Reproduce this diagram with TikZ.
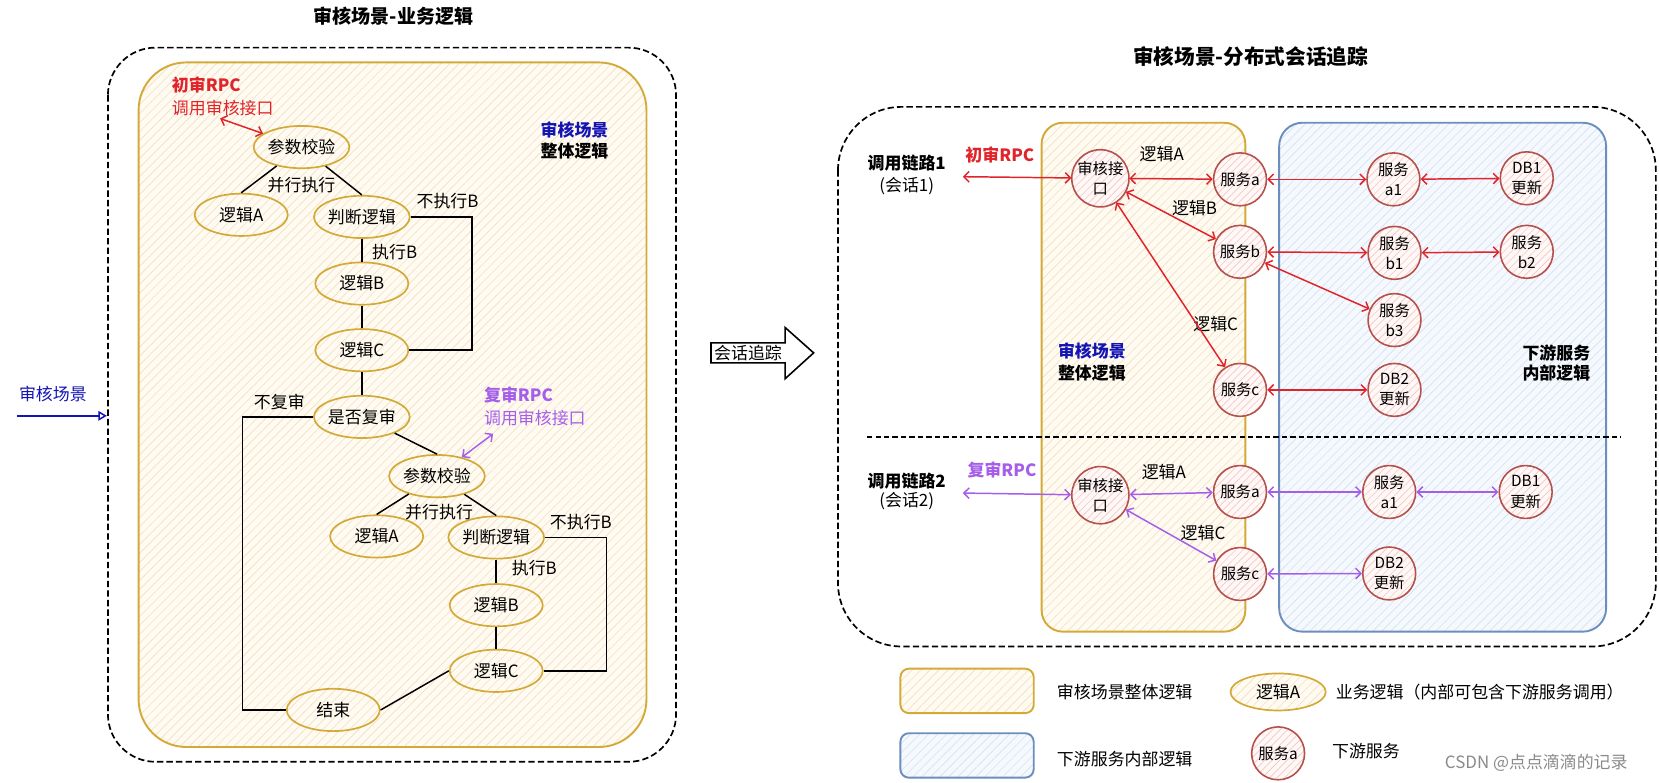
\documentclass[tikz,border=0pt]{standalone}
\usepackage{fontspec}
\setmainfont{Noto Sans CJK SC}
\usetikzlibrary{shapes.geometric,arrows.meta,patterns.meta}
\definecolor{goldc}{HTML}{D4A937}
\definecolor{goldbg}{HTML}{FFFBF2}
\definecolor{goldhatch}{HTML}{F1E1BD}
\definecolor{bluec}{HTML}{6C8EBF}
\definecolor{bluebg}{HTML}{F5F9FE}
\definecolor{bluehatch}{HTML}{D3E1F2}
\definecolor{svcc}{HTML}{B5504B}
\definecolor{svcbg}{HTML}{FFF8F7}
\definecolor{svchatch}{HTML}{F0C8C5}
\definecolor{redc}{HTML}{E0242A}
\definecolor{purc}{HTML}{A55EEA}
\definecolor{bluet}{HTML}{1414B4}
\definecolor{wmgray}{HTML}{8A8A8A}
\newcommand\lblfont{\fontsize{16}{20}\selectfont}
\newcommand\svcfont{\fontsize{14.5}{19}\selectfont}
\newcommand\ttlAfont{\fontsize{18}{22}\selectfont\bfseries}
\newcommand\ttlBfont{\fontsize{19.5}{23}\selectfont\bfseries}
\begin{document}
\begin{tikzpicture}[x=1pt,y=-1pt,
  every node/.style={font=\lblfont},
  hatchgold/.style={preaction={fill=goldbg},pattern={Lines[angle=45,distance=6pt,line width=0.6pt]},pattern color=goldhatch},
  hatchblue/.style={preaction={fill=bluebg},pattern={Lines[angle=45,distance=6pt,line width=0.6pt]},pattern color=bluehatch},
  hatchpink/.style={preaction={fill=svcbg},pattern={Lines[angle=45,distance=5pt,line width=0.6pt]},pattern color=svchatch},
  outerdash/.style={draw=black,line width=1.6pt,dash pattern=on 6pt off 3pt},
  goldbox/.style={draw=goldc,line width=1.8pt,hatchgold},
  bluebox/.style={draw=bluec,line width=1.8pt,hatchblue},
  ell/.style={ellipse,draw=goldc,line width=1.6pt,hatchgold,minimum width=88pt,minimum height=40pt,inner sep=0pt},
  svc/.style={circle,draw=svcc,line width=1.5pt,hatchpink,minimum size=50pt,inner sep=0pt,align=center,font=\svcfont},
  conn/.style={draw=black,line width=1.4pt},
  rarr/.style={draw=redc,line width=1.4pt,{Straight Barb[length=5pt,width=10pt]}-{Straight Barb[length=5pt,width=10pt]}},
  parr/.style={draw=purc,line width=1.4pt,{Straight Barb[length=5pt,width=10pt]}-{Straight Barb[length=5pt,width=10pt]}},
  boldlbl/.style={font=\lblfont\bfseries}
]
\useasboundingbox (0,0) rectangle (1568,740);

% ---------------- left part ----------------
\node[font=\ttlAfont] (t1) at (372,15) {审核场景-业务逻辑};
\draw[outerdash,rounded corners=45pt] (102,45) rectangle (639,720);
\draw[goldbox,rounded corners=45pt] (131,59) rectangle (611,706);

\node[boldlbl,text=redc,anchor=west] (rpcAt) at (159,80) {初审RPC};
\node[text=redc,anchor=west] (rpcAs) at (159,102) {调用审核接口};
\node[boldlbl,text=bluet] (scA1) at (543,123) {审核场景};
\node[boldlbl] (scA2) at (543,143) {整体逻辑};

\node[ell] (pj1) at (285,139) {参数校验};
\node[ell] (la1) at (228,203) {逻辑A};
\node[ell] (pd1) at (342,205) {判断逻辑};
\node[ell] (lb1) at (342,268) {逻辑B};
\node[ell] (lc1) at (342,331) {逻辑C};
\node[ell] (sf) at (342,394) {是否复审};
\node[ell] (pj2) at (413,450) {参数校验};
\node[ell] (la2) at (356,507) {逻辑A};
\node[ell] (pd2) at (469,508) {判断逻辑};
\node[ell] (lb2) at (469,572) {逻辑B};
\node[ell] (lc2) at (469,634) {逻辑C};
\node[ell] (js) at (315,671) {结束};

\coordinate (rpcA) at (208,112);
\draw[rarr] (rpcA) -- (pj1);
\draw[conn] (pj1) -- (la1.north);
\draw[conn] (pj1) -- (pd1.north);
\draw[conn] (pd1) -- (lb1);
\draw[conn] (lb1) -- (lc1);
\draw[conn] (lc1) -- (sf);
\coordinate (nb1) at (446,0);
\draw[conn] (pd1.east) -- (pd1.east -| nb1) |- (lc1.east);
\coordinate (nf) at (229,0);
\draw[conn] (sf.west) -- (sf.west -| nf) |- (js.west);
\draw[conn] (sf) -- (pj2.north);
\draw[conn] (pj2) -- (la2.north);
\draw[conn] (pj2) -- (pd2.north);
\draw[conn] (pd2) -- (lb2);
\draw[conn] (lb2) -- (lc2);
\coordinate (nb2) at (573,0);
\draw[conn] (pd2.east) -- (pd2.east -| nb2) |- (lc2.east);
\draw[conn] (js.east) -- (lc2.west);

\node (l1) at (285,175) {并行执行};
\node (l2) at (423,190) {不执行B};
\node (l3) at (373,238) {执行B};
\node (l4) at (264,380) {不复审};
\node (l5) at (415,484) {并行执行};
\node (l6) at (549,493) {不执行B};
\node (l7) at (505,537) {执行B};

\node[boldlbl,text=purc,anchor=west] (rpcBt) at (454,373) {复审RPC};
\node[text=purc,anchor=west] (rpcBs) at (454,395) {调用审核接口};
\coordinate (rpcB) at (466,410);
\draw[parr] (rpcB) -- (pj2);

\node[text=bluet] (inl) at (50,372) {审核场景};
\coordinate (inA) at (16,393);
\coordinate (inB) at (101,393);
\draw[draw=bluet,line width=1.4pt,-{Triangle[open,length=8pt,width=9pt]}] (inA) -- (inB);

% ---------------- middle arrow ----------------
\draw[line width=1.5pt,fill=white] (672,324) -- (742,324) -- (742,309.5) -- (769,333.5) -- (742,358) -- (742,343) -- (672,343) -- cycle;
\node (mid) at (707,334) {会话追踪};

% ---------------- right part ----------------
\node[font=\ttlBfont] (t2) at (1182,53) {审核场景-分布式会话追踪};
\draw[outerdash,rounded corners=60pt] (792,101) rectangle (1565,611);
\draw[goldbox,rounded corners=20pt] (984.5,116) rectangle (1177,597);
\draw[bluebox,rounded corners=22pt] (1209,116) rectangle (1518,597);
\draw[line width=1.4pt,dash pattern=on 5pt off 3pt] (819.5,413) -- (1532,413);

\node[boldlbl] (c1a) at (857,154) {调用链路1};
\node (c1b) at (857,176) {(会话1)};
\node[boldlbl] (c2a) at (857,455) {调用链路2};
\node (c2b) at (857,474) {(会话2)};
\node[boldlbl,text=redc] (r1) at (945,146) {初审RPC};
\node[boldlbl,text=purc] (r2) at (947,444) {复审RPC};
\node[boldlbl,text=bluet] (scB1) at (1032,332) {审核场景};
\node[boldlbl] (scB2) at (1032,353) {整体逻辑};
\node[boldlbl] (ds1) at (1471,334) {下游服务};
\node[boldlbl] (ds2) at (1471,353) {内部逻辑};

\node[svc] (sh1) at (1040,168.5) {审核接\\口};
\node[svc] (sa1) at (1172,169.5) {服务a};
\node[svc] (sb1) at (1172,238) {服务b};
\node[svc] (sc1) at (1172,368.5) {服务c};
\node[svc] (a11) at (1317,169.5) {服务\\a1};
\node[svc] (db11) at (1443,168.5) {DB1\\更新};
\node[svc] (b11) at (1318,239) {服务\\b1};
\node[svc] (b21) at (1443,238) {服务\\b2};
\node[svc] (b31) at (1318,302.5) {服务\\b3};
\node[svc] (db21) at (1318,368.5) {DB2\\更新};

\node[svc] (sh2) at (1040,468) {审核接\\口};
\node[svc] (sa2) at (1172,465) {服务a};
\node[svc] (sc2) at (1172,542.5) {服务c};
\node[svc] (a12) at (1313,465) {服务\\a1};
\node[svc] (db12) at (1442,465) {DB1\\更新};
\node[svc] (db22) at (1313,542) {DB2\\更新};

\node (ea1) at (1098,146) {逻辑A};
\node (eb1) at (1129,197) {逻辑B};
\node (ec1) at (1149,306) {逻辑C};
\node (ea2) at (1100,446) {逻辑A};
\node (ec2) at (1137,504) {逻辑C};

\coordinate (rpc1) at (910,167);
\coordinate (rpc2) at (910,466);
\draw[rarr] (rpc1) -- (sh1);
\draw[rarr] (sh1) -- (sa1);
\draw[rarr] (sh1) -- (sb1);
\draw[rarr] (sh1) -- (sc1);
\draw[rarr] (sa1) -- (a11);
\draw[rarr] (a11) -- (db11);
\draw[rarr] (sb1) -- (b11);
\draw[rarr] (b11) -- (b21);
\draw[rarr] (sb1) -- (b31);
\draw[rarr] (sc1) -- (db21);

\draw[parr] (rpc2) -- (sh2);
\draw[parr] (sh2) -- (sa2);
\draw[parr] (sh2) -- (sc2);
\draw[parr] (sa2) -- (a12);
\draw[parr] (a12) -- (db12);
\draw[parr] (sc2) -- (db22);

% ---------------- legend ----------------
\draw[goldbox,rounded corners=8pt] (851,632) rectangle (977,674);
\draw[bluebox,rounded corners=8pt] (851,693) rectangle (977,735);
\node (lg1) at (1063,654) {审核场景整体逻辑};
\node (lg2) at (1063,717) {下游服务内部逻辑};
\node[ell,minimum width=90pt,minimum height=35pt] (lgE) at (1208,654) {逻辑A};
\node[svc] (lgC) at (1208,712) {服务a};
\node[anchor=west] (lg3) at (1259,654) {业务逻辑（内部可包含下游服务调用）};
\node (lg4) at (1291,710) {下游服务};
\node[text=wmgray] (wm) at (1452,721) {CSDN @点点滴滴的记录};
\end{tikzpicture}
\end{document}
